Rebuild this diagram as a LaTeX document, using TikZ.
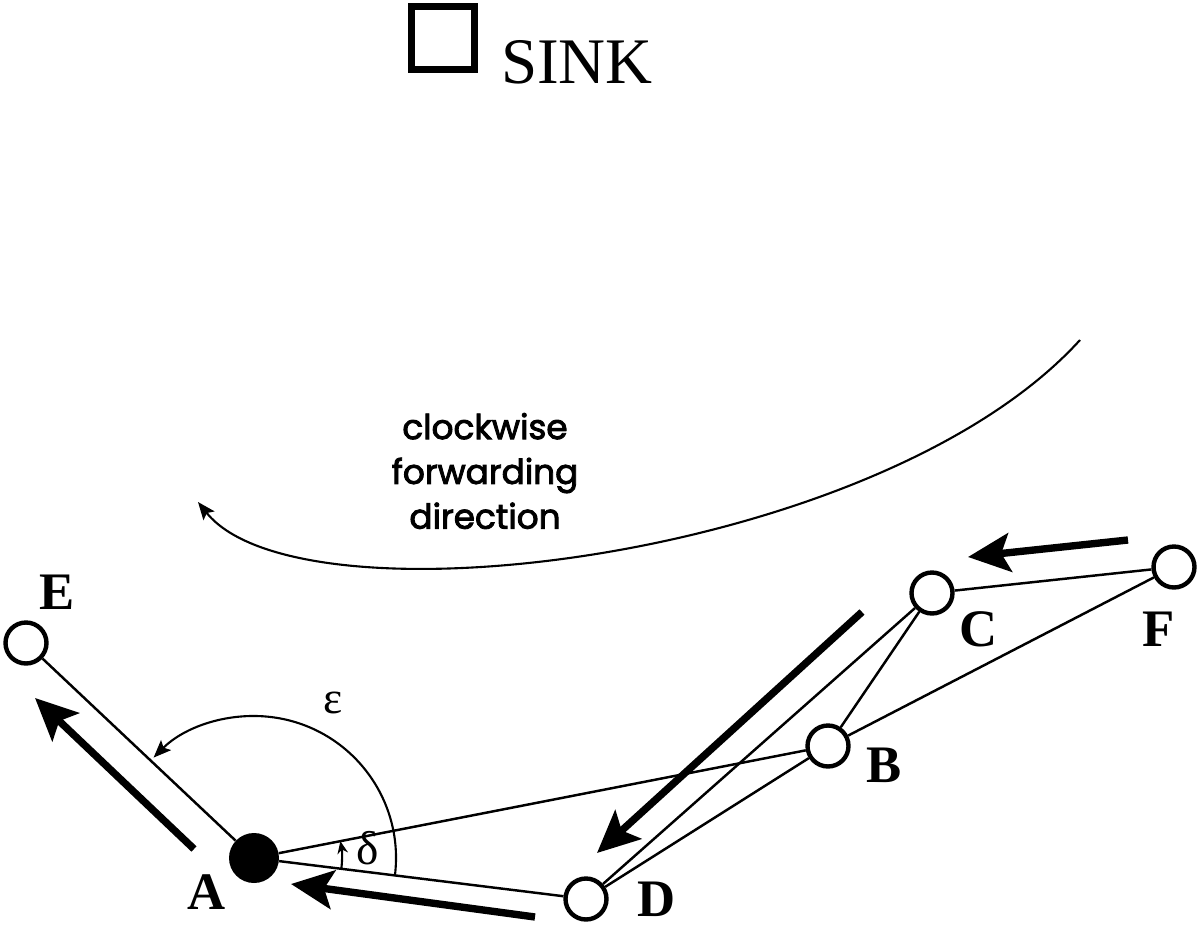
\documentclass[tikz,border=0pt]{standalone}
\usepackage{fontspec}
\setmainfont{Liberation Serif}
\newfontfamily\gothicfont[FakeBold=2.6]{Poppins}
\usetikzlibrary{positioning, arrows.meta}

\begin{document}
\begin{tikzpicture}[
        x=0.02cm, y=-0.02cm,
        % nodi della rete
        sensor/.style={draw, circle, line width=2.5pt, minimum size=0.82cm, inner sep=0pt},
        active/.style={fill, circle, minimum size=1cm, inner sep=0pt},
        sinkbox/.style={draw, line width=4pt, minimum size=1.26cm, inner sep=0pt},
        % etichette
        lab/.style={font=\fontsize{30}{30}\selectfont\bfseries, inner sep=0pt},
        greek/.style={font=\fontsize{26}{26}\selectfont, inner sep=0pt},
        % collegamenti e frecce
        link/.style={line width=1.4pt},
        flow/.style={line width=4.2pt, -{Stealth[length=24pt, width=22pt, inset=5pt]}},
        thin arrow/.style={line width=1.2pt, -{Stealth[length=10pt, width=8pt, inset=2pt]}},
    ]
    \useasboundingbox (0,0) rectangle (1200,926);

    % sink
    \node[sinkbox] (sink) at (443,38) {};
    \node[font=\fontsize{37}{37}\selectfont, inner sep=0pt] (sinklab) at (577,62) {SINK};

    % sensori
    \node[sensor] (e) at (26,643) {};
    \node[active] (a) at (254,858) {};
    \node[sensor] (d) at (586,899) {};
    \node[sensor] (b) at (828,746) {};
    \node[sensor] (c) at (932,593) {};
    \node[sensor] (f) at (1174,567) {};

    \node[lab] at (57,592) {E};
    \node[lab] at (207,892) {A};
    \node[lab] at (657,899) {D};
    \node[lab] at (884,765) {B};
    \node[lab] at (979,629) {C};
    \node[lab] at (1159,629) {F};

    % collegamenti
    \draw[link] (a) -- (e);
    \draw[link] (a) -- (b);
    \draw[link] (a) -- (d);
    \draw[link] (d) -- (b);
    \draw[link] (d) -- (c);
    \draw[link] (b) -- (c);
    \draw[link] (b) -- (f);
    \draw[link] (c) -- (f);

    % direzione di inoltro
    \coordinate (cwstart) at (1080,340);
    \coordinate (cwend) at (198,502);
    \draw[thin arrow] (cwstart) .. controls (880,560) and (300,630) .. (cwend);
    \node[font=\gothicfont\fontsize{19.5}{25.5}\selectfont, align=center] (cwlab) at (485,471)
        {clockwise\\forwarding\\direction};

    % frecce spesse
    \coordinate (f1s) at (1128,540);  \coordinate (f1e) at (968,557);
    \coordinate (f2s) at (862,612);   \coordinate (f2e) at (597,853);
    \coordinate (f3s) at (535,917);   \coordinate (f3e) at (291,884);
    \coordinate (f4s) at (194,849);   \coordinate (f4e) at (35,698);
    \draw[flow] (f1s) -- (f1e);
    \draw[flow] (f2s) -- (f2e);
    \draw[flow] (f3s) -- (f3e);
    \draw[flow] (f4s) -- (f4e);

    % angoli
    \draw[thin arrow] (a.center) ++(7:142) arc[start angle=7, end angle=-135, radius=142];
    \draw[line width=1.2pt, -{Stealth[length=7pt, width=6pt]}] (a.center) ++(7:88) arc[start angle=7, end angle=-11, radius=88];
    \node[greek] (eps) at (333,703) {ε};
    \node[greek, font=\fontsize{27}{27}\selectfont] (del) at (368,848) {δ};

\end{tikzpicture}
\end{document}
